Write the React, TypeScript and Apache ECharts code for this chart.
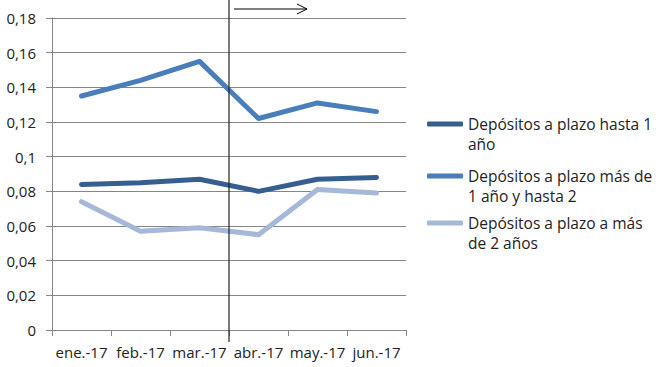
import React, { useEffect, useRef } from "react";
import * as echarts from "echarts";

const categories = ["ene.-17", "feb.-17", "mar.-17", "abr.-17", "may.-17", "jun.-17"];
const seriesNames = [
  "Depósitos a plazo hasta 1\naño",
  "Depósitos a plazo más de\n1 año y hasta 2",
  "Depósitos a plazo a más\nde 2 años",
];
const hasta1 = [0.084, 0.085, 0.087, 0.080, 0.087, 0.088];
const masDe1Hasta2 = [0.135, 0.144, 0.155, 0.122, 0.131, 0.126];
const masDe2 = [0.074, 0.057, 0.059, 0.055, 0.081, 0.079];
const colors = ["#365F91", "#4A7EBB", "#A5B8D7"];
const legendTops = [94, 146, 193];

const FONT = "Open Sans";

export default function App() {
  const ref = useRef<HTMLDivElement>(null);
  useEffect(() => {
    if (!ref.current) return;
    const chart = echarts.init(ref.current, undefined, { renderer: "svg" });
    const values = [hasta1, masDe1Hasta2, masDe2];
    const option: any = {
      animation: false,
      backgroundColor: "#ffffff",
      textStyle: { fontFamily: FONT },
      grid: { left: 52, right: 253, top: 18, bottom: 37, containLabel: false },
      xAxis: {
        type: "category",
        data: categories,
        boundaryGap: true,
        axisLine: { lineStyle: { color: "#868686", width: 1 } },
        axisTick: { show: true, length: 6, lineStyle: { color: "#868686" } },
        axisLabel: { color: "#222", fontSize: 15, margin: 14, fontFamily: FONT, interval: 0 },
        splitLine: { show: false },
      },
      yAxis: {
        type: "value",
        min: 0,
        max: 0.18,
        interval: 0.02,
        axisLine: { show: true, lineStyle: { color: "#868686", width: 1 } },
        axisTick: { show: true, length: 6, lineStyle: { color: "#868686" } },
        axisLabel: {
          color: "#222",
          fontSize: 15,
          margin: 16,
          fontFamily: FONT,
          formatter: (v: number) => String(+v.toFixed(2)).replace(".", ","),
        },
        splitLine: { show: true, lineStyle: { color: "#868686", width: 1 } },
      },
      legend: seriesNames.map((name, i) => ({
        data: [name],
        orient: "vertical",
        left: 427,
        top: legendTops[i],
        padding: 0,
        icon: "roundRect",
        itemWidth: 36,
        itemHeight: 5,
        itemGap: 0,
        selectedMode: false,
        formatter: (n: string) => "\n" + n,
        textStyle: {
          fontFamily: FONT,
          fontSize: 15.5,
          color: "#222",
          lineHeight: 20,
        },
      })),
      series: seriesNames.map((name, i) => ({
        name,
        type: "line",
        data: values[i],
        showSymbol: false,
        symbol: "none",
        color: colors[i],
        lineStyle: { width: 5, color: colors[i], cap: "round", join: "round" },
      })),
    };
    chart.setOption(option);

    const xMar = chart.convertToPixel({ xAxisIndex: 0 }, "mar.-17") as number;
    const xAbr = chart.convertToPixel({ xAxisIndex: 0 }, "abr.-17") as number;
    const xDiv = (xMar + xAbr) / 2;
    const yZero = chart.convertToPixel({ yAxisIndex: 0 }, 0) as number;
    chart.setOption({
      graphic: [
        {
          type: "line",
          shape: { x1: xDiv, y1: 0, x2: xDiv, y2: yZero + 12 },
          style: { stroke: "#202020", lineWidth: 1.2 },
          z: 10,
        },
        {
          type: "line",
          shape: { x1: xDiv + 5, y1: 9, x2: xDiv + 78, y2: 9 },
          style: { stroke: "#000", lineWidth: 1 },
          z: 10,
        },
        {
          type: "polyline",
          shape: { points: [[xDiv + 68, 4], [xDiv + 78, 9], [xDiv + 68, 14]] },
          style: { stroke: "#000", lineWidth: 1, fill: "none" },
          z: 10,
        },
      ],
    });
    return () => chart.dispose();
  }, []);
  return (
    <div
      ref={ref}
      style={{ position: "fixed", left: 0, top: 0, width: 659, height: 367 }}
    />
  );
}
